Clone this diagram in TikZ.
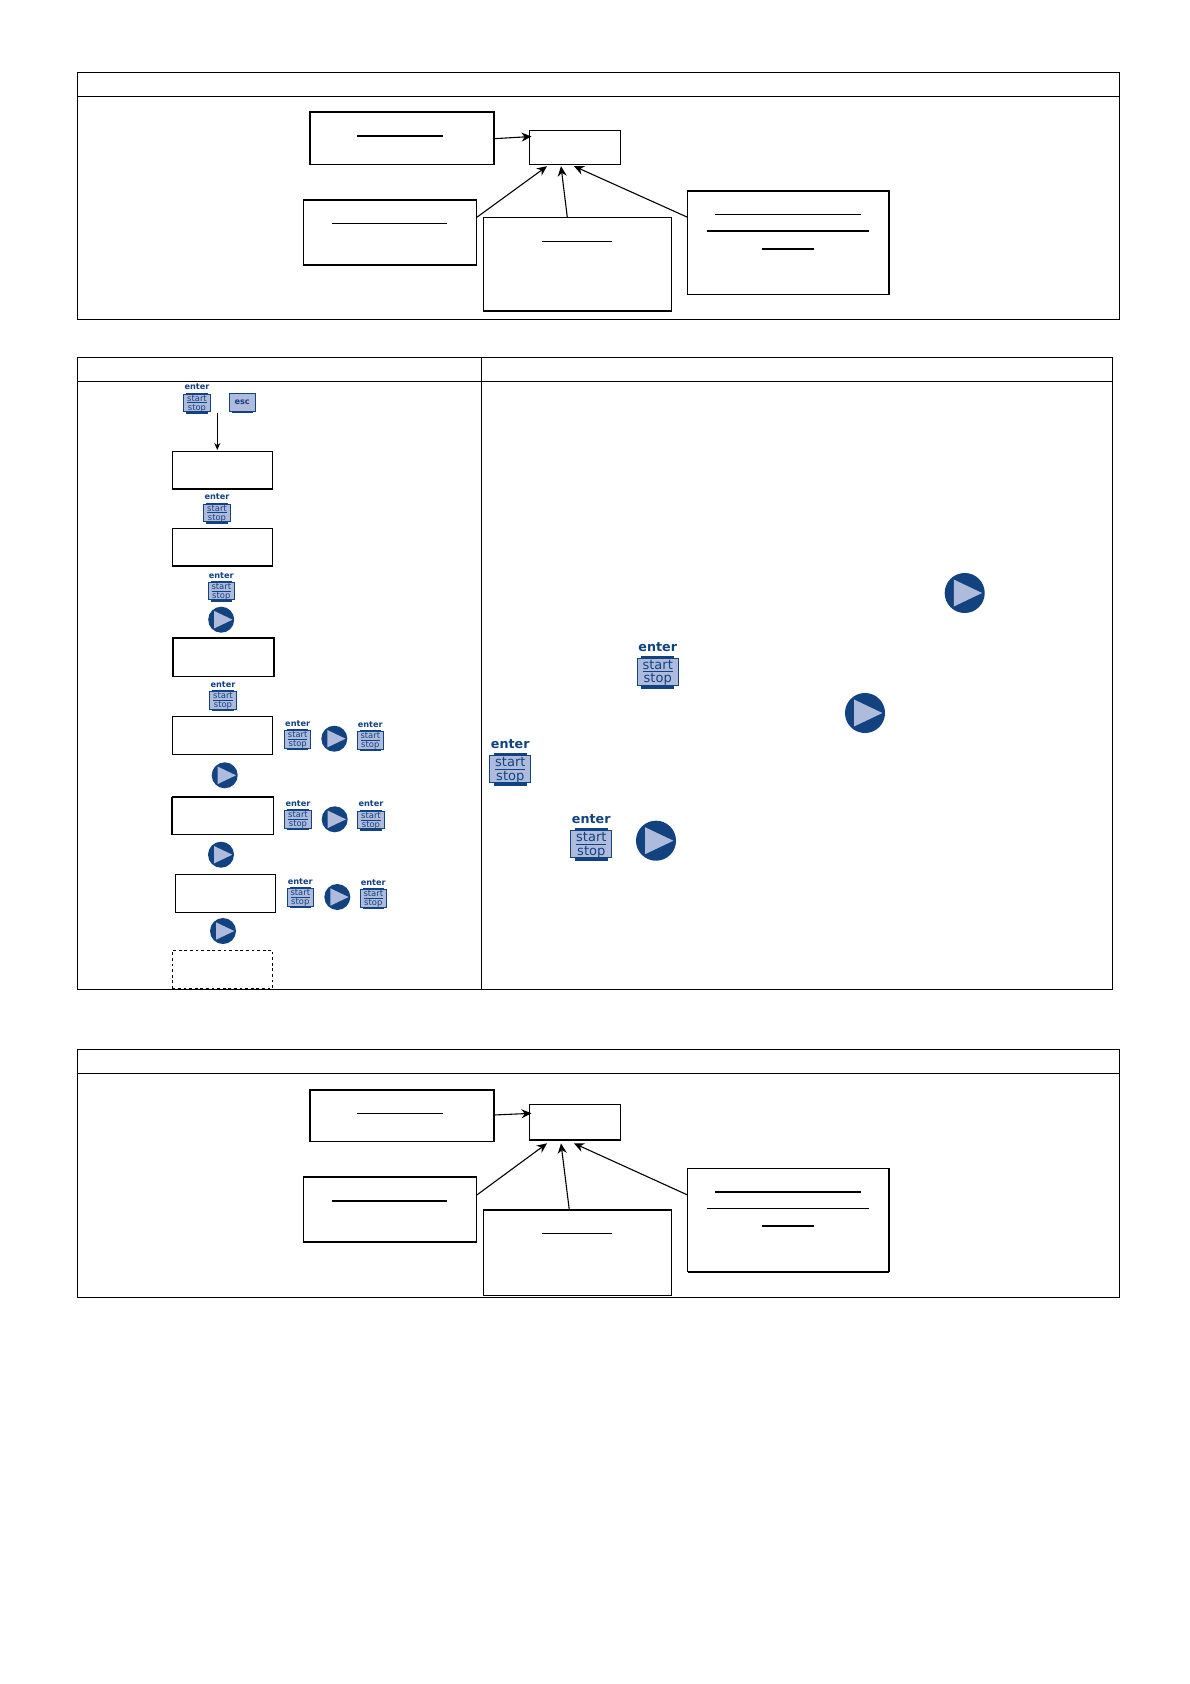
\documentclass[tikz,border=0pt]{standalone}
\usepackage{fontspec}
\setsansfont{DejaVu Sans}
\usetikzlibrary{arrows.meta}
\definecolor{keynavy}{HTML}{12427F}
\definecolor{keylight}{HTML}{AEBBDC}
\tikzset{
  framerule/.style={draw=black, line width=1pt},
  dispbox/.style={draw=black, fill=white, line width=1.2pt, inner sep=0pt, outer sep=0pt},
  rulethin/.style={draw=black, line width=0.8pt},
  rulethick/.style={draw=black, line width=1.6pt},
  edgeheavy/.style={draw=black, line width=1.9pt},
  flow/.style={-{Stealth[length=10pt,width=9pt]}, draw=black, line width=1.1pt},
  keybody/.style={draw=keynavy, fill=keylight, line width=1pt, inner sep=0pt,
    minimum width=26.3pt, minimum height=17.5pt},
  keytext/.style={text=keynavy, inner sep=0pt, font=\sffamily\fontsize{8.4}{9}\selectfont},
  keyenter/.style={text=keynavy, inner sep=0pt, font=\sffamily\bfseries\fontsize{8.2}{9}\selectfont},
  playdisc/.style={circle, fill=keynavy, inner sep=0pt, minimum size=26pt},
}
%% key with its label above: [scale]{name}{position}
\newcommand{\enterkey}[3][1]{%
  \begin{scope}[shift={(#3)},scale=#1,transform shape]
    \fill[keynavy] (-10.7,-10.9) rectangle (10.7,10.2);
    \node[keybody] (#2) at (0,0) {};
    \draw[keynavy, line width=0.8pt] (-9.7,0) -- (9.7,0);
    \node[keytext, anchor=base] (#2-start) at (0,1.7) {start};
    \node[keytext, anchor=base] (#2-stop) at (0,-7.2) {stop};
    \node[keyenter, anchor=base] (#2-enter) at (0,13.2) {enter};
  \end{scope}}
\newcommand{\playkey}[3][1]{%
  \begin{scope}[shift={(#3)},scale=#1,transform shape]
    \node[playdisc] (#2) at (0,0) {};
    \fill[keylight] (-7,8.7) -- (11.3,0) -- (-7,-8.7) -- cycle;
  \end{scope}}

\begin{document}
\begin{tikzpicture}[x=1pt, y=1pt]
\useasboundingbox (0,0) rectangle (1190,-1684);

%% --- Panel frames ---------------------------------------------------
\draw[framerule] (77.4,-72.3) rectangle (1119,-319.3);
\draw[framerule] (77.4,-96.3) -- (1119,-96.3);

\draw[framerule] (77.4,-357.6) rectangle (1112.7,-989.3);
\draw[framerule] (77.4,-381.3) -- (1112.7,-381.3);
\draw[framerule] (481,-357.6) -- (481,-989.3);

\draw[framerule] (77.4,-1049.3) rectangle (1119,-1297.3);
\draw[framerule] (77.4,-1073.3) -- (1119,-1073.3);

%% --- Top panel: boxes -----------------------------------------------
\node[dispbox, minimum width=184pt, minimum height=52.3pt] (topA) at (402,-138.2) {};
\node[dispbox, minimum width=91.2pt, minimum height=34.4pt] (topB) at (575.1,-147.5) {};
\node[dispbox, minimum width=173pt, minimum height=65pt] (topC) at (390.3,-232.5) {};
\node[dispbox, minimum width=187.9pt, minimum height=93.7pt] (topD) at (577.5,-264.2) {};
\node[dispbox, minimum width=201.4pt, minimum height=103.6pt] (topE) at (788.3,-242.5) {};

%% heading rules
\draw[rulethick] (357,-136) -- (443,-136);
\draw[rulethin]  (332,-223.3) -- (447,-223.3);
\draw[rulethin]  (541.6,-241.3) -- (612,-241.3);
\draw[rulethin]  (715.3,-214.3) -- (860.5,-214.3);
\draw[rulethick] (706.5,-231) -- (869.3,-231);
\draw[rulethick] (762,-249) -- (814,-249);

%% top panel arrows
\draw[flow] ([yshift=-0.5pt]topA.east) -- ([xshift=2pt,yshift=11pt]topB.west);
\draw[flow] ([yshift=15.2pt]topC.east) -- ([xshift=17.5pt,yshift=-1.5pt]topB.south west);
\draw[flow] ([xshift=-10.2pt]topD.north) -- ([xshift=31.5pt,yshift=-1.5pt]topB.south west);
\draw[flow] ([yshift=25.2pt]topE.west) -- ([xshift=44.5pt,yshift=-1.5pt]topB.south west);

%% --- Bottom panel: boxes --------------------------------------------
\node[dispbox, minimum width=184pt, minimum height=51.3pt] (botA) at (402,-1115.7) {};
\node[dispbox, minimum width=91.2pt, minimum height=35.7pt] (botB) at (575.1,-1122.2) {};
\node[dispbox, minimum width=173pt, minimum height=65.3pt] (botC) at (390.3,-1209.3) {};
\node[dispbox, minimum width=187.9pt, minimum height=85.7pt] (botD) at (577.5,-1252.8) {};
\node[dispbox, minimum width=201.4pt, minimum height=103pt] (botE) at (788.3,-1220.2) {};

%% heading rules
\draw[rulethin]  (357,-1113.3) -- (443,-1113.3);
\draw[rulethick] (332,-1201) -- (447,-1201);
\draw[rulethin]  (541.6,-1233.3) -- (612,-1233.3);
\draw[rulethick] (715.3,-1192) -- (860.5,-1192);
\draw[rulethin]  (706.5,-1208.3) -- (869.3,-1208.3);
\draw[rulethick] (762,-1226) -- (814,-1226);

%% bottom panel arrows
\draw[flow] ([yshift=0.7pt]botA.east) -- ([xshift=2pt,yshift=8.9pt]botB.west);
\draw[flow] ([yshift=14.3pt]botC.east) -- ([xshift=17.5pt,yshift=-3.3pt]botB.south west);
\draw[flow] ([xshift=-8.2pt]botD.north) -- ([xshift=31.5pt,yshift=-3.3pt]botB.south west);
\draw[flow] ([yshift=25.2pt]botE.west) -- ([xshift=44.5pt,yshift=-3.3pt]botB.south west);

%% --- Table, left cell: display boxes --------------------------------
\node[dispbox, minimum width=100.4pt, minimum height=38pt] (dispA) at (222.5,-470.3) {};
\node[dispbox, minimum width=100.4pt, minimum height=38pt] (dispB) at (222.5,-547.3) {};
\node[dispbox, minimum width=101pt, minimum height=38.6pt] (dispC) at (223.4,-657.3) {};
\node[dispbox, minimum width=100.4pt, minimum height=37.6pt] (dispD) at (222.5,-735.5) {};
\node[dispbox, minimum width=101.4pt, minimum height=37.7pt] (dispE) at (223,-815.9) {};
\node[dispbox, minimum width=100.4pt, minimum height=37.6pt] (dispF) at (225.5,-893.5) {};
\node[dispbox, line width=1pt, minimum width=100.4pt, minimum height=38pt, dash pattern=on 2.8pt off 2.8pt] (dispG) at (222.5,-969.3) {};

%% heavier box edges
\foreach \from/\to in {topC.north west/topC.north east, topC.south west/topC.south east,
    topD.south west/topD.south east, topE.north west/topE.north east,
    botA.north west/botA.north east, botB.south west/botB.south east,
    botC.north west/botC.north east, botD.north west/botD.north east,
    botE.south west/botE.south east, dispA.south west/dispA.south east,
    dispB.south west/dispB.south east, dispC.north west/dispC.north east,
    dispE.north west/dispE.north east, dispE.north west/dispE.south west}
  \draw[edgeheavy] (\from) -- (\to);

%% --- Table, left cell: keys -----------------------------------------
\enterkey{keyA}{197,-402.8}
\node[keybody, minimum height=18pt] (keyEsc) at (242.2,-402) {};
\fill[keynavy] (232,-411) rectangle (252.5,-412.6);
\node[keyenter] (keyEsc-text) at (242.2,-402) {esc};
\enterkey{keyB}{217,-512.8}
\enterkey{keyC}{221.3,-591.2}
\playkey{playA}{221.2,-619.7}
\enterkey{keyD}{223,-700.5}

\enterkey{keyE}{297.7,-739.5}
\playkey{playB}{334.3,-738.7}
\enterkey{keyF}{370.3,-740.3}
\playkey{playC}{224.7,-775.3}

\enterkey{keyG}{298,-819.3}
\playkey{playD}{334.7,-819.3}
\enterkey{keyH}{371,-820}
\playkey{playE}{221,-854.7}

\enterkey{keyI}{300.3,-897.3}
\playkey{playF}{337.3,-897}
\enterkey{keyJ}{373.3,-898.3}
\playkey{playG}{223,-931}

%% drop from the keys to the first display
\coordinate (dropA) at (217.3,-412.7);
\draw[-{Stealth[length=7pt,width=6pt]}, line width=0.9pt] (dropA) -- ([yshift=1.3pt]dispA.north -| dropA);

%% --- Table, right cell: keys ----------------------------------------
\playkey[1.54]{playH}{964.7,-593}
\enterkey[1.55]{keyK}{657.7,-671.7}
\playkey[1.54]{playI}{865,-713}
\enterkey[1.55]{keyL}{510.3,-769}
\enterkey[1.55]{keyM}{591.3,-844}
\playkey[1.54]{playJ}{656,-840.7}

\end{tikzpicture}
\end{document}
